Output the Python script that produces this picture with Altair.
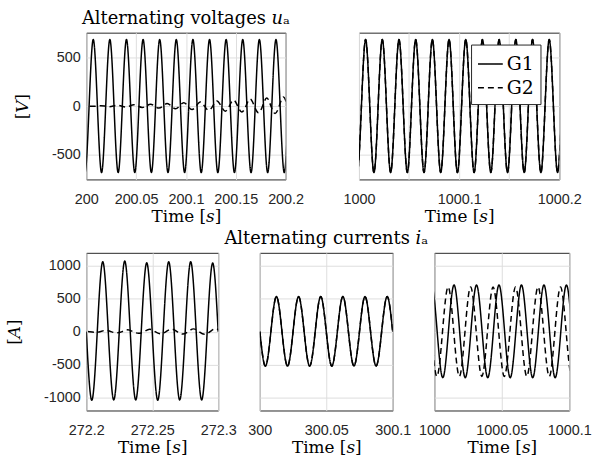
import altair as alt
import pandas as pd

# Waveforms are sampled every quarter cycle of the 60 Hz fundamental
# (zero crossings and extremes); the line is drawn with a natural spline.
QUARTER = 1 / 240

SERIF = "DejaVu Serif"
SANS = "Liberation Sans"
INK = "#262626"

# ---- Alternating voltages u_a, window 200 s .. 200.2 s ----
ua_200_t0_g1 = 199.9945
ua_200_g1 = [
    0, -680, 0, 680, 0, -680, 0, 680, 0, -680, 0, 680, 0, -680, 0, 680,
    0, -680, 0, 680, 0, -680, 0, 680, 0, -680, 0, 680, 0, -680, 0, 680,
    0, -680, 0, 680, 0, -680, 0, 680, 0, -680, 0, 680, 0, -680, 0, 680,
    0, -680, 0, 680, 0,
]
ua_200_t0_g2 = 199.99357
ua_200_g2 = [
    0, 2, 0, -3, 0, 4, 0, -6, 0, 8, 0, -10, 0, 13, 0, -15,
    0, 19, 0, -21, 0, 26, 0, -28, 0, 34, 0, -36, 0, 42, 0, -44,
    0, 52, 0, -52, 0, 62, 0, -60, 0, 72, 0, -68, 0, 82, 0, -76,
    0, 92, 0,
]

# ---- Alternating voltages u_a, window 1000 s .. 1000.2 s (G1 and G2 coincide) ----
ua_1000_t0 = 999.9941
ua_1000_g1 = [
    0, -680, 0, 680, 0, -680, 0, 680, 0, -680, 0, 680, 0, -680, 0, 680,
    0, -680, 0, 680, 0, -680, 0, 680, 0, -680, 0, 680, 0, -680, 0, 680,
    0, -680, 0, 680, 0, -680, 0, 680, 0, -680, 0, 680, 0, -680, 0, 680,
    0, -680, 0, 680, 0,
]
ua_1000_g2 = list(ua_1000_g1)

# ---- Alternating currents i_a, window 272.2 s .. 272.3 s ----
ia_272_t0_g1 = 272.2
ia_272_g1 = [
    0, -1035, 0, 1055, 0, -1030, 0, 1065, 0, -1030, 0, 1040,
    0, -1035, 0, 1055, 0, -1030, 0, 1055, 0, -1030, 0, 1035, 0,
]
ia_272_t0_g2 = 272.19383
ia_272_g2 = [
    0, 8, 0, -10, 0, 20, 0, -18, 0, 28, 0, -25, 0, 35, 0, -32,
    0, 38, 0, -36, 0, 42, 0, -40, 0, 45, 0,
]

# ---- Alternating currents i_a, window 300 s .. 300.1 s (G1 and G2 coincide) ----
ia_300_t0 = 300.0
ia_300_g1 = [
    0, -520, 0, 530, 0, -520, 0, 530, 0, -520, 0, 530,
    0, -520, 0, 530, 0, -520, 0, 530, 0, -520, 0, 530, 0,
]
ia_300_g2 = list(ia_300_g1)

# ---- Alternating currents i_a, window 1000 s .. 1000.1 s ----
ia_1000_t0_g1 = 999.99375
ia_1000_g1 = [
    0, 705, 0, -695, 0, 705, 0, -695, 0, 705, 0, -695,
    0, 705, 0, -695, 0, 705, 0, -695, 0, 705, 0, -695, 0, 705, 0,
]
ia_1000_t0_g2 = 999.98937
ia_1000_g2 = [
    0, 675, 0, -675, 0, 675, 0, -675, 0, 675, 0, -675, 0, 675, 0, -675,
    0, 675, 0, -675, 0, 675, 0, -675, 0, 675, 0, -675, 0,
]

SERIES = ["G1", "G2"]


def frame(t0, values, name):
    return pd.DataFrame({
        "t": [t0 + i * QUARTER for i in range(len(values))],
        "v": values,
        "series": name,
    })


LEGEND = alt.Legend(
    orient="none", legendX=388, legendY=12, title=None,
    symbolType="stroke", symbolSize=625, symbolStrokeWidth=1.5,
    symbolStrokeColor="black", labelFont=SERIF, labelFontSize=19,
    labelColor="black", fillColor="white", strokeColor=INK,
    padding=6, rowPadding=0, labelOffset=3,
)


def panel(g1, g2, xdom, xticks, ydom, yticks, w, h,
          ytitle=None, ylabels=True, title=None, xlabel_expr=None):
    xaxis_kw = dict(values=xticks, format=".2~f", title="Time [𝑠]",
                    labelFlush=False, labelOverlap=False)
    if xlabel_expr:
        xaxis_kw["labelExpr"] = xlabel_expr
    yaxis_kw = dict(values=yticks, labels=ylabels, format="d",
                    labelExpr="replace(datum.label, '\u2212', '-')")
    yaxis_kw["title"] = ytitle if ytitle else ""
    x = alt.X("t:Q", scale=alt.Scale(domain=xdom, nice=False, zero=False),
              axis=alt.Axis(**xaxis_kw))
    y = alt.Y("v:Q", scale=alt.Scale(domain=ydom, nice=False, zero=False),
              axis=alt.Axis(**yaxis_kw))
    dash = alt.StrokeDash("series:N",
                          scale=alt.Scale(domain=SERIES, range=[[1, 0], [6, 4]]),
                          legend=LEGEND)
    layers = [
        alt.Chart(df).mark_line(clip=True, interpolate="natural", color="black",
                                strokeWidth=1.5).encode(x=x, y=y, strokeDash=dash)
        for df in (g2, g1)
    ]
    ch = alt.layer(*layers).properties(width=w, height=h)
    if title:
        ch = ch.properties(title=alt.TitleParams(
            title, font=SERIF, fontSize=18, fontWeight="normal", color="black",
            anchor="middle", baseline="alphabetic", offset=-9))
    return ch


V_DOM = [-750, 750]
V_TICKS = [-500, 0, 500]
A_DOM = [-1190, 1190]
A_TICKS = [-1000, -500, 0, 500, 1000]

tl = panel(frame(ua_200_t0_g1, ua_200_g1, "G1"), frame(ua_200_t0_g2, ua_200_g2, "G2"),
           [200, 200.2], [200, 200.05, 200.1, 200.15, 200.2], V_DOM, V_TICKS, 201, 148,
           ytitle="[𝑉]", title="Alternating voltages 𝑢ₐ")
tr = panel(frame(ua_1000_t0, ua_1000_g1, "G1"), frame(ua_1000_t0, ua_1000_g2, "G2"),
           [1000, 1000.2], [1000, 1000.05, 1000.1, 1000.15, 1000.2], V_DOM, V_TICKS, 202, 148,
           ylabels=False,
           xlabel_expr="round(datum.value * 20) % 2 == 0 ? datum.label : ''")
bl = panel(frame(ia_272_t0_g1, ia_272_g1, "G1"), frame(ia_272_t0_g2, ia_272_g2, "G2"),
           [272.2, 272.3], [272.2, 272.25, 272.3], A_DOM, A_TICKS, 133, 159,
           ytitle="[𝐴]")
bm = panel(frame(ia_300_t0, ia_300_g1, "G1"), frame(ia_300_t0, ia_300_g2, "G2"),
           [300, 300.1], [300, 300.05, 300.1], A_DOM, A_TICKS, 134, 159,
           ylabels=False, title="Alternating currents 𝑖ₐ")
br = panel(frame(ia_1000_t0_g1, ia_1000_g1, "G1"), frame(ia_1000_t0_g2, ia_1000_g2, "G2"),
           [1000, 1000.1], [1000, 1000.05, 1000.1], A_DOM, A_TICKS, 136, 159,
           ylabels=False)

top = alt.hconcat(tl, tr, spacing=74, bounds="flush")
bottom = alt.hconcat(bl, bm, br, spacing=42, bounds="flush")

chart = alt.vconcat(top, bottom, spacing=4).properties(
    autosize=alt.AutoSizeParams(type="pad"),
    padding={"left": 5, "top": 7, "right": 5, "bottom": 5},
    background="white",
).configure_view(
    stroke=INK, strokeWidth=1,
).configure_axis(
    labelFont=SANS, labelFontSize=14.5, labelColor=INK,
    titleFont=SERIF, titleFontSize=17, titleFontWeight="normal", titleColor="black",
    gridColor="#dedede", gridWidth=1, domain=False, ticks=False,
).configure_axisY(
    labelPadding=6, titlePadding=20,
).configure_axisX(
    labelPadding=13, titlePadding=3,
)

chart.save("out.html", embed_options={"renderer": "svg", "actions": False})
